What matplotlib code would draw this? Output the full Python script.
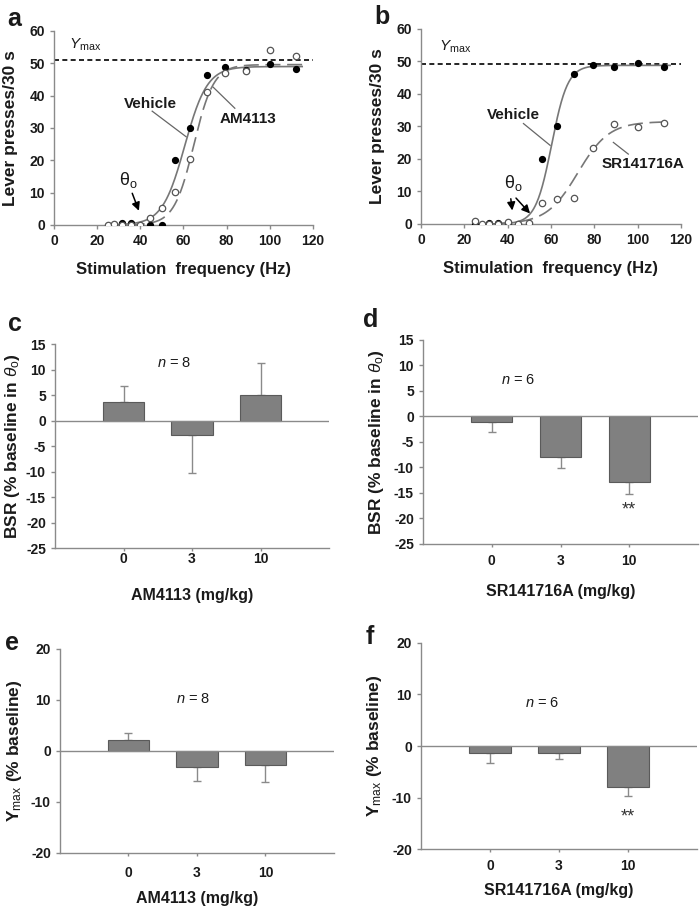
import numpy as np
import matplotlib
matplotlib.use("Agg")
import matplotlib.pyplot as plt

plt.rcParams['font.family'] = ['Liberation Sans', 'DejaVu Sans']
plt.rcParams['axes.unicode_minus'] = False
plt.rcParams['mathtext.fontset'] = 'custom'
plt.rcParams['mathtext.rm'] = 'Liberation Sans'
plt.rcParams['mathtext.it'] = 'Liberation Sans:italic'
plt.rcParams['mathtext.bf'] = 'Liberation Sans:bold'

TXT = '#1a1a1a'
AX = '#8a8a8a'
BAR = '#808080'

# ---- rate-frequency data (Hz, lever presses/30 s)
freq = [25, 28, 31.5, 35.5, 40, 44.7, 50, 56, 63, 70.8, 79.4, 89, 100, 112]

a_veh_x = [31.5, 35.5, 44.7, 50, 56, 63, 70.8, 79.4, 89, 100, 112]
a_veh_y = [0.5, 0.5, 0, 0, 20, 30, 46.3, 48.8, 48.0, 49.7, 48.3]
a_drug_y = [0, 0.3, 0, 0, 0, 2.3, 5.3, 10.2, 20.3, 41, 47, 47.5, 54, 52.3]

b_veh_x = [25, 31.5, 35.5, 40, 56, 63, 70.8, 79.4, 89, 100, 112]
b_veh_y = [0, 0.3, 0.3, 0, 20, 30, 46.3, 48.8, 48.3, 49.6, 48.3]
b_drug_y = [1.0, 0, 0, 0, 0.7, 0, 0.3, 6.6, 7.8, 8.0, 23.3, 30.8, 29.8, 31.0]

# fitted sigmoid parameters: (top, x50, slope)
a_veh_fit = (49.0, 60.6, 5.2)
a_drug_fit = (49.6, 64.8, 4.6)
b_veh_fit = (48.8, 60.3, 3.7)
b_drug_fit = (31.5, 72.4, 7.2)
a_ymax = 51.0
b_ymax = 49.3

# ---- bar data
doses = ['0', '3', '10']
c_mean = [3.6, -2.9, 5.0]
c_err = [3.2, 7.4, 6.2]
d_mean = [-1.0, -8.0, -12.9]
d_err = [2.0, 2.1, 2.4]
e_mean = [2.1, -3.2, -2.8]
e_err = [1.5, 2.6, 3.2]
f_mean = [-1.3, -1.3, -7.9]
f_err = [2.0, 1.3, 1.8]


def sigmoid(x, p):
    top, x50, s = p
    return top / (1 + np.exp(-(x - x50) / s))


fig = plt.figure(figsize=(7, 9.06), dpi=100)


def style_axes(ax):
    for sp in ['top', 'right']:
        ax.spines[sp].set_visible(False)
    for sp in ['left', 'bottom']:
        ax.spines[sp].set_color(AX)
        ax.spines[sp].set_linewidth(1.0)
    ax.tick_params(colors=AX, labelcolor=TXT, length=3, width=1, labelsize=10)
    for lab in ax.get_xticklabels() + ax.get_yticklabels():
        lab.set_fontweight('bold')


def rate_panel(rect, veh_x, veh_y, drug_y, veh_fit, drug_fit, ymax, letter):
    ax = fig.add_axes(rect)
    xs = np.linspace(25, 115, 300)
    ax.plot(xs, sigmoid(xs, veh_fit), color='#777777', lw=1.2, zorder=2)
    ax.plot(xs, sigmoid(xs, drug_fit), color='#777777', lw=1.2,
            dashes=(9, 4), zorder=2)
    ax.axhline(ymax, color='black', lw=1.2, dashes=(3, 2), zorder=1)
    ax.plot(veh_x, veh_y, 'o', ms=4.2, mfc='black', mec='black', zorder=3)
    ax.plot(freq, drug_y, 'o', ms=4.6, mfc='white', mec='#555555', mew=0.9,
            zorder=4)
    ax.set_xlim(0, 120)
    ax.set_ylim(0, 60)
    ax.set_xticks(range(0, 121, 20))
    ax.set_yticks(range(0, 61, 10))
    ax.set_xlabel('Stimulation  frequency (Hz)', fontsize=12, fontweight='bold',
                  color=TXT, labelpad=10)
    ax.set_ylabel('Lever presses/30 s', fontsize=12.5, fontweight='bold',
                  color=TXT, labelpad=8)
    style_axes(ax)
    ax.text(-0.18, 1.06, letter, transform=ax.transAxes, fontsize=18,
            fontweight='bold', color=TXT, ha='left', va='center')
    return ax


theta_txt = r'$\mathrm{θ}_{\mathrm{o}}$'

ax = rate_panel([0.0771, 0.7517, 0.37, 0.2141], a_veh_x, a_veh_y, a_drug_y,
                a_veh_fit, a_drug_fit, a_ymax, 'a')
ax.text(7, 54.5, r'$Y_{\rm max}$', fontsize=11, color=TXT, ha='left')
ax.text(44.5, 37.5, 'Vehicle', fontsize=11, fontweight='bold', color=TXT,
        ha='center', va='center')
ax.plot([45.5, 61.2], [35.2, 27.3], color='#666666', lw=0.9)
ax.text(90, 32.8, 'AM4113', fontsize=11, fontweight='bold', color=TXT,
        ha='center', va='center')
ax.plot([83.8, 73.8], [36.1, 42.6], color='#666666', lw=0.9)
ax.text(34.4, 14, theta_txt, fontsize=13, color=TXT, ha='center',
        va='center')
ax.annotate('', xy=(39.8, 3.6), xytext=(35.8, 10.6),
            arrowprops=dict(arrowstyle='-|>', color='black', lw=1.1,
                            mutation_scale=12))

ax = rate_panel([0.6014, 0.7528, 0.3714, 0.2152], b_veh_x, b_veh_y, b_drug_y,
                b_veh_fit, b_drug_fit, b_ymax, 'b')
ax.text(8.5, 53.5, r'$Y_{\rm max}$', fontsize=11, color=TXT, ha='left')
ax.text(42.7, 33.5, 'Vehicle', fontsize=11, fontweight='bold', color=TXT,
        ha='center', va='center')
ax.plot([47.3, 59.6], [30.9, 24.2], color='#666666', lw=0.9)
ax.text(102.6, 18.6, 'SR141716A', fontsize=11, fontweight='bold', color=TXT,
        ha='center', va='center')
ax.plot([95.7, 88.8], [21.5, 25.1], color='#666666', lw=0.9)
ax.text(42.7, 12.6, theta_txt, fontsize=13, color=TXT, ha='center',
        va='center')
ax.annotate('', xy=(42.3, 3.3), xytext=(41.3, 8.6),
            arrowprops=dict(arrowstyle='-|>', color='black', lw=1.1,
                            mutation_scale=12))
ax.annotate('', xy=(51.2, 2.6), xytext=(43.0, 8.6),
            arrowprops=dict(arrowstyle='-|>', color='black', lw=1.1,
                            mutation_scale=12))


def bar_panel(rect, means, errs, ylim, ystep, ylabel, xlabel, n_text, n_pos,
              stars, letter, letter_pos, tpad, lpad, ypad):
    ax = fig.add_axes(rect)
    xpos = np.arange(1, len(doses) + 1)
    ax.bar(xpos, means, width=0.6, color=BAR, edgecolor='#5a5a5a', lw=0.8,
           zorder=2)
    for x, m, e in zip(xpos, means, errs):
        sign = 1 if m >= 0 else -1
        ax.errorbar(x, m, yerr=[[0], [e]] if sign > 0 else [[e], [0]],
                    fmt='none', ecolor=AX, elinewidth=1, capsize=3,
                    capthick=1, zorder=1)
    ax.axhline(0, color=AX, lw=1, zorder=3)
    ax.set_xlim(0, 4)
    ax.set_ylim(*ylim)
    ax.set_xticks(xpos)
    ax.set_xticklabels(doses)
    ax.set_yticks(np.arange(ylim[0], ylim[1] + 0.1, ystep))
    ax.set_ylabel(ylabel, fontsize=12.5, fontweight='bold', color=TXT,
                  labelpad=ypad)
    ax.set_xlabel(xlabel, fontsize=11.5, fontweight='bold', color=TXT,
                  labelpad=lpad)
    style_axes(ax)
    ax.tick_params(axis='x', length=2.5, pad=tpad)
    ax.text(n_pos[0], n_pos[1], n_text, fontsize=10.5, color=TXT,
            ha='center', va='center')
    if stars is not None:
        ax.text(stars[0], stars[1], '**', fontsize=13, color='#333333',
                ha='center', va='center')
    ax.text(letter_pos[0], letter_pos[1], letter, transform=ax.transAxes,
            fontsize=18, fontweight='bold', color=TXT, ha='left',
            va='center')
    return ax


bsr_label = r'BSR (% baseline in $\mathit{\theta}_{\rm o}$)'
ymax_label = r'Y$_{\rm max}$ (% baseline)'

bar_panel([0.0786, 0.3951, 0.3914, 0.2252], c_mean, c_err, (-25, 15), 5,
          bsr_label, 'AM4113 (mg/kg)', r'$n$ = 8', (1.74, 11.3), None, 'c',
          (-0.17, 1.1), 0.5, 16, 3)
bar_panel([0.6043, 0.3996, 0.3929, 0.2252], d_mean, d_err, (-25, 15), 5,
          bsr_label, 'SR141716A (mg/kg)', r'$n$ = 6', (1.39, 7.2),
          (3, -18.4), 'd', (-0.22, 1.1), 5, 11, 6)
bar_panel([0.0857, 0.0585, 0.3914, 0.2252], e_mean, e_err, (-20, 20), 10,
          ymax_label, 'AM4113 (mg/kg)', r'$n$ = 8', (1.94, 10.2), None, 'e',
          (-0.2, 1.03), 7, 8, 5)
bar_panel([0.6014, 0.0629, 0.3943, 0.2274], f_mean, f_err, (-20, 20), 10,
          ymax_label, 'SR141716A (mg/kg)', r'$n$ = 6', (1.75, 8.3),
          (3, -13.8), 'f', (-0.2, 1.03), 5, 7, 6)

fig.savefig('out.png', dpi=100, facecolor='white')
